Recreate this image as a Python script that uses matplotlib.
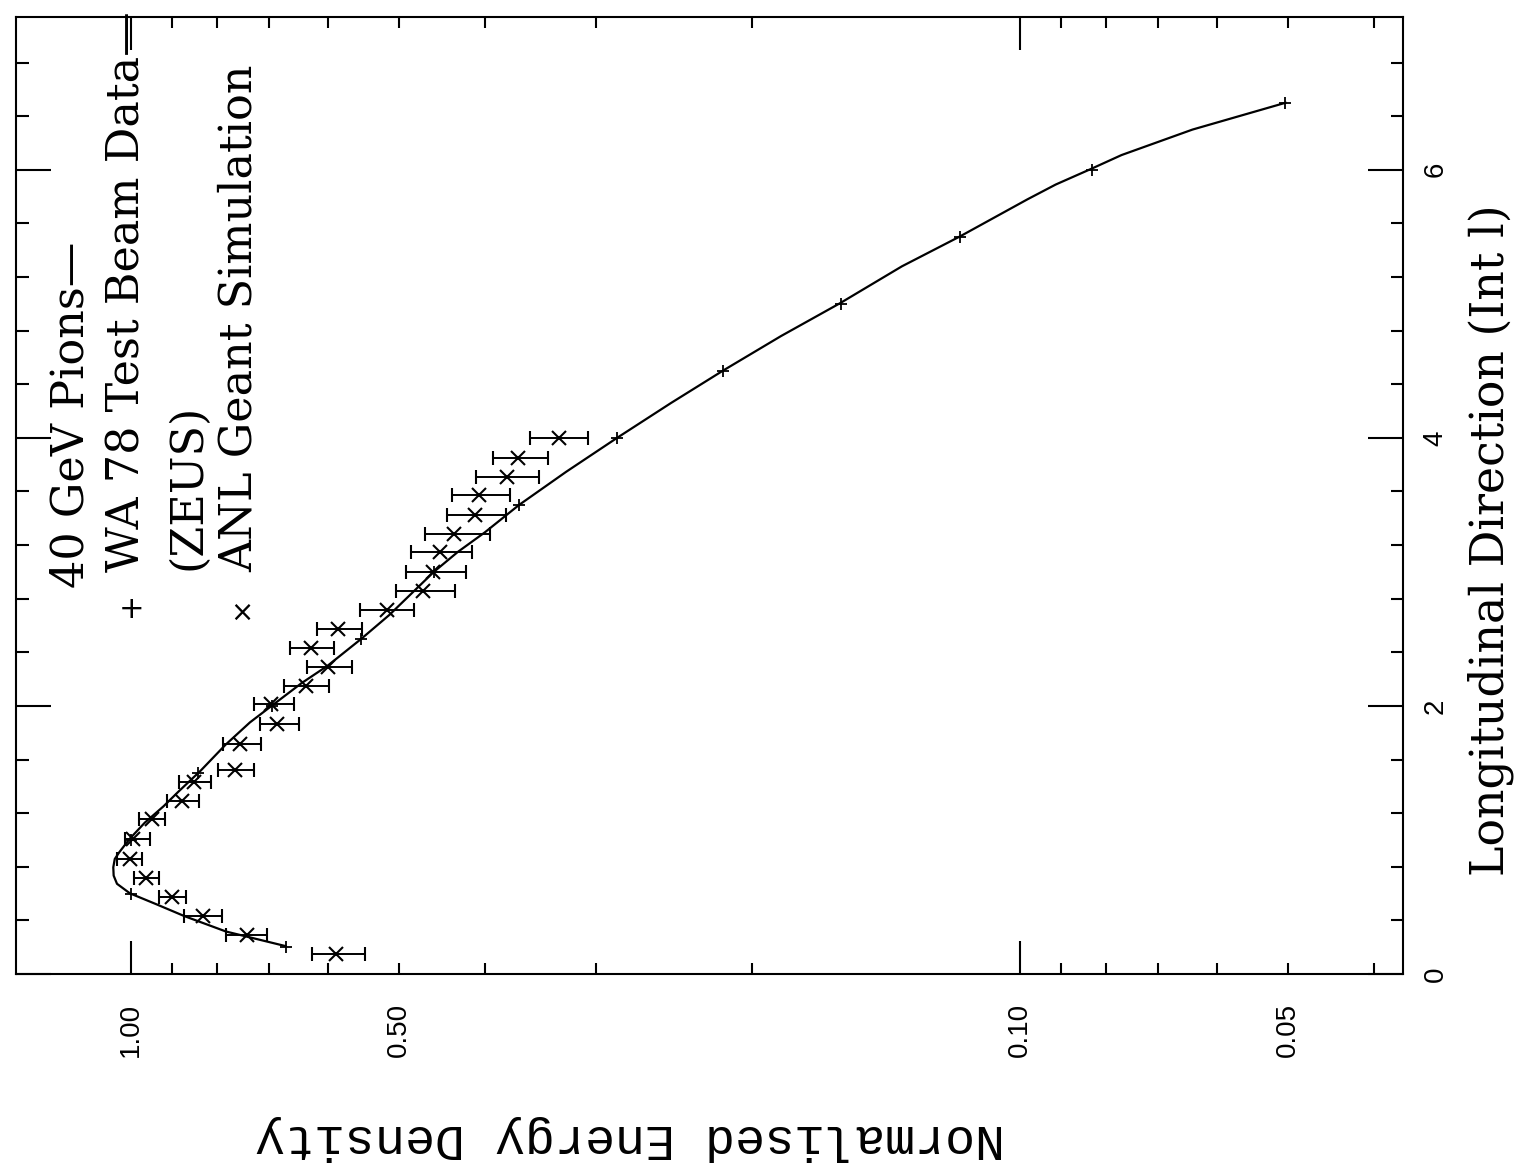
import numpy as np

import matplotlib
matplotlib.use('Agg')
import matplotlib.pyplot as plt
from matplotlib import rc
from matplotlib.ticker import FixedLocator, FuncFormatter, MultipleLocator

rc('font', **{'family': 'Liberation Sans', 'size': 20})

# smooth curve drawn through the WA 78 points
curve_L = [0.208, 0.317, 0.432, 0.521, 0.602, 0.673, 0.734, 0.796, 0.858, 0.908,
           1.007, 1.129, 1.252, 1.362, 1.517, 1.71, 1.877, 2.0, 2.17, 2.30,
           2.50, 2.68, 3.0, 3.149, 3.295, 3.50, 3.747, 4.0, 4.26,
           4.503, 4.76, 5.006, 5.28, 5.505, 5.78, 5.89, 6.01, 6.11, 6.30, 6.50]
curve_E = [0.670, 0.782, 0.871, 0.937, 1.003, 1.037, 1.046, 1.047, 1.043, 1.031,
           1.004, 0.965, 0.919, 0.884, 0.835, 0.783, 0.735, 0.695, 0.643, 0.601,
           0.551, 0.512, 0.4565, 0.429, 0.400, 0.366, 0.324, 0.284, 0.247,
           0.2157, 0.1857, 0.1593, 0.1358, 0.1167, 0.0981, 0.0912, 0.0830, 0.0769, 0.064, 0.0503]

# WA 78 test beam data (+)
wa_L = [0.2, 0.6, 1.0, 1.5, 2.0, 2.5, 3.0, 3.5, 4.0, 4.5, 5.0, 5.5, 6.0, 6.5]
wa_E = [0.67, 1.00, 1.00, 0.84, 0.695, 0.551, 0.456, 0.366, 0.284, 0.216, 0.159, 0.117, 0.083, 0.0503]

# ANL Geant simulation (x) with error bar ends
anl_L = [0.152, 0.291, 0.430, 0.574, 0.715, 0.858, 1.007, 1.154, 1.293, 1.435,
         1.519, 1.716, 1.862, 2.011, 2.145, 2.287, 2.430, 2.576, 2.713, 2.859,
         2.997, 3.146, 3.286, 3.425, 3.574, 3.710, 3.850, 3.996]
anl_E = [0.588, 0.740, 0.831, 0.899, 0.961, 1.003, 0.995, 0.948, 0.876, 0.849,
         0.763, 0.754, 0.685, 0.696, 0.636, 0.600, 0.628, 0.585, 0.516, 0.469,
         0.457, 0.449, 0.433, 0.410, 0.406, 0.378, 0.367, 0.330]
anl_hi = [0.626, 0.782, 0.871, 0.930, 0.993, 1.038, 1.017, 0.979, 0.911, 0.884,
          0.799, 0.789, 0.716, 0.728, 0.673, 0.634, 0.663, 0.618, 0.552, 0.503,
          0.491, 0.484, 0.467, 0.441, 0.436, 0.409, 0.392, 0.356]
anl_lo = [0.546, 0.703, 0.791, 0.868, 0.929, 0.971, 0.952, 0.916, 0.838, 0.813,
          0.728, 0.714, 0.647, 0.656, 0.599, 0.564, 0.591, 0.550, 0.481, 0.432,
          0.420, 0.413, 0.395, 0.379, 0.375, 0.348, 0.340, 0.306]

W, H = 1514, 1167


def fx(px):
    return px / W


def fy(py):
    return 1 - py / H


def plot():
    fig = plt.figure(figsize=(W / 100, H / 100), dpi=100)
    ax = fig.add_axes([fx(16), fy(974), fx(1403) - fx(16), fy(17) - fy(974)])

    ax.plot(curve_E, curve_L, color='k', lw=1.6)
    ax.plot(wa_E, wa_L, ls='none', marker='+', ms=8, mew=1.3, color='k')

    E = np.array(anl_E)
    xerr = [E - np.array(anl_lo), np.array(anl_hi) - E]
    ax.errorbar(anl_E, anl_L, xerr=xerr, fmt='x', ms=10, mew=1.5, color='k',
                elinewidth=1.4, capsize=4.7, capthick=1.4)

    ax.set_xscale('log')
    ax.set_xlim(1.347, 0.0371)
    ax.set_ylim(0, 7.14)

    ax.xaxis.set_major_locator(FixedLocator([1.0, 0.1]))
    ax.xaxis.set_major_formatter(FuncFormatter(lambda v, p: '%.2f' % v))
    ax.xaxis.set_minor_locator(FixedLocator([0.9, 0.8, 0.7, 0.6, 0.5, 0.4, 0.3, 0.2,
                                             0.09, 0.08, 0.07, 0.06, 0.05, 0.04]))
    ax.xaxis.set_minor_formatter(FuncFormatter(
        lambda v, p: '%.2f' % v if (abs(v - 0.5) < 1e-6 or abs(v - 0.05) < 1e-6) else ''))
    ax.yaxis.set_major_locator(MultipleLocator(2))
    ax.yaxis.set_major_formatter(FuncFormatter(lambda v, p: '%d' % v))
    ax.yaxis.set_minor_locator(MultipleLocator(0.4))

    ax.tick_params(axis='both', which='both', direction='in', top=True, right=True,
                   width=1.5, labelsize=20)
    ax.tick_params(axis='x', which='major', length=24, pad=21, labelrotation=90)
    ax.tick_params(axis='x', which='minor', length=8, pad=21, labelrotation=90)
    ax.tick_params(axis='y', which='major', length=25, pad=14, labelrotation=90,
                   labelleft=False, labelright=True)
    ax.tick_params(axis='y', which='minor', length=9)
    for lab in ax.get_yticklabels():
        lab.set_va('center')
    for s in ax.spines.values():
        s.set_linewidth(1.5)

    # legend written along the left side
    serif = 'DejaVu Serif'
    kw = dict(rotation=90, rotation_mode='anchor', ha='left', va='baseline',
              family=serif, fontsize=32)
    fig.text(fx(84), fy(588), '40 GeV Pions\u2014', **kw)
    fig.text(fx(140), fy(572), 'WA 78 Test Beam Data\u2014', **kw)
    fig.text(fx(200), fy(570), '(ZEUS)', **kw)
    fig.text(fx(252), fy(572), 'ANL Geant Simulation', **kw)
    fig.text(fx(132), fy(610), '+', ha='center', va='center', family='DejaVu Sans',
             fontsize=22)
    fig.text(fx(242), fy(613), '\u00d7', ha='center', va='center', family='DejaVu Sans',
             fontsize=20)

    fig.text(fx(1504), fy(540), 'Longitudinal Direction (Int l)', rotation=90,
             rotation_mode='anchor', ha='center', va='baseline', family=serif, fontsize=33)
    fig.text(fx(630), fy(1138), 'Normalised Energy Density', rotation=180,
             ha='center', va='center', family='Liberation Mono', fontsize=36)

    fig.savefig('out.png', dpi=100)


plot()
